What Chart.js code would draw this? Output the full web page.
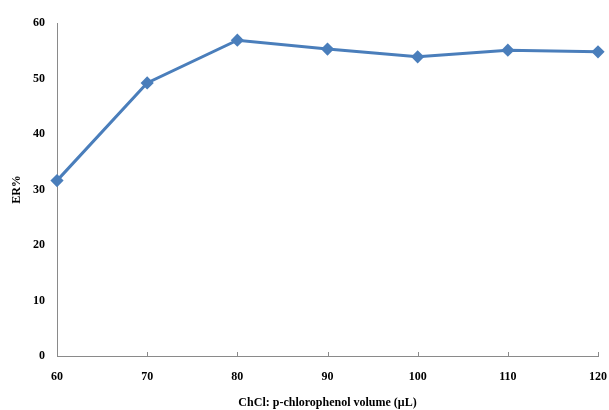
<!DOCTYPE html>
<html><head><meta charset="utf-8">
<script src="https://cdn.jsdelivr.net/npm/chart.js@4.4.1/dist/chart.umd.min.js"></script>
<style>html,body{margin:0;padding:0;background:#fff}#wrap{width:609px;height:410px}</style>
</head><body><div id="wrap"><canvas id="c" width="609" height="410"></canvas></div>
<script>
const volumes = [60, 70, 80, 90, 100, 110, 120];
const erValues = [31.6, 49.2, 56.9, 55.3, 53.9, 55.1, 54.8];
const xTicks = [60, 70, 80, 90, 100, 110, 120];
const yTicks = [0, 10, 20, 30, 40, 50, 60];

const font = {family: '"Liberation Serif", "Times New Roman", serif', weight: 'bold', size: 12};
const axisColor = '#8a8a8a';

const innerTicks = {
  id: 'innerTicks',
  afterDraw(chart) {
    const ctx = chart.ctx, xs = chart.scales.x, ys = chart.scales.y;
    ctx.save();
    ctx.strokeStyle = axisColor; ctx.lineWidth = 1;
    xTicks.forEach(v => {
      const px = Math.round(xs.getPixelForValue(v)) + 0.5;
      ctx.beginPath(); ctx.moveTo(px, ys.bottom); ctx.lineTo(px, ys.bottom - 4); ctx.stroke();
    });
    ctx.restore();
  }
};

new Chart(document.getElementById('c'), {
  type: 'line',
  data: {
    datasets: [{
      data: volumes.map((v, i) => ({x: v, y: erValues[i]})),
      borderColor: '#4a7ebb',
      backgroundColor: '#4a7ebb',
      borderWidth: 3,
      pointStyle: 'rectRot',
      pointRadius: 4.5,
      pointHoverRadius: 4.5,
      tension: 0,
      clip: false
    }]
  },
  options: {
    responsive: false,
    animation: false,
    events: [],
    layout: {padding: {top: 23, right: 0, left: 10, bottom: 0}},
    plugins: {legend: {display: false}, tooltip: {enabled: false}},
    scales: {
      x: {
        type: 'linear', min: 60, max: 120,
        afterBuildTicks: s => { s.ticks = xTicks.map(v => ({value: v})); },
        grid: {display: false, drawTicks: false},
        border: {display: true, color: axisColor, width: 1},
        ticks: {font, color: '#000', padding: 14, maxRotation: 0},
        title: {display: true, text: 'ChCl: p-chlorophenol volume (μL)', font, color: '#000', padding: {top: 8, bottom: 0}},
        afterFit: s => { s.height = 54; s.paddingRight = 11; s.paddingLeft = 0; }
      },
      y: {
        min: 0, max: 60,
        afterBuildTicks: s => { s.ticks = yTicks.map(v => ({value: v})); },
        grid: {display: false, drawTicks: false},
        border: {display: true, color: axisColor, width: 1},
        ticks: {font, color: '#000', padding: 12},
        title: {display: true, text: 'ER%', font, color: '#000', padding: {top: 0, bottom: 10}},
        afterFit: s => { s.width = 47; }
      }
    }
  },
  plugins: [innerTicks]
});
</script></body></html>
